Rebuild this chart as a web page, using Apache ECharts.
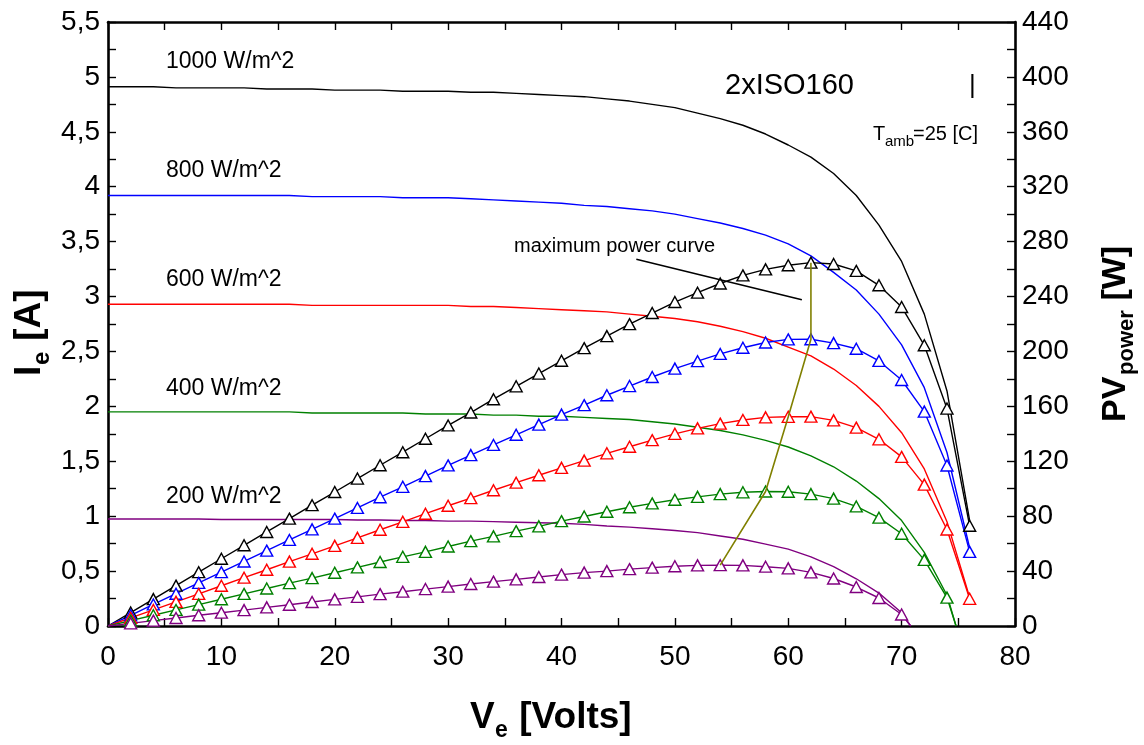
<!DOCTYPE html>
<html>
<head>
<meta charset="utf-8">
<script src="https://cdn.jsdelivr.net/npm/echarts@6/dist/echarts.min.js"></script>
<style>
  html, body { margin: 0; padding: 0; background: #fff; }
  #chart { width: 1144px; height: 745px; }
</style>
</head>
<body>
<div id="chart"></div>
<script>
// Terminal voltage samples [V]
const volts = [0, 2, 4, 6, 8, 10, 12, 14, 16, 18, 20, 22, 24, 26, 28, 30, 32, 34, 36, 38,
               40, 42, 44, 46, 48, 50, 52, 54, 56, 58, 60, 62, 64, 66, 68, 70, 72, 74, 76];

// Irradiance levels, one curve pair each
const irradianceLabels = ['1000 W/m^2', '800 W/m^2', '600 W/m^2', '400 W/m^2', '200 W/m^2'];
const curveColors = ['#000000', '#0000ff', '#ff0000', '#008000', '#800080'];

// Module current I_e [A] at each voltage sample
const current1000 = [4.91, 4.91, 4.91, 4.90, 4.90, 4.90, 4.90, 4.89, 4.89, 4.89, 4.88, 4.88, 4.88, 4.87, 4.87, 4.87, 4.86, 4.86, 4.85, 4.84,
                     4.83, 4.82, 4.80, 4.78, 4.75, 4.72, 4.67, 4.62, 4.56, 4.48, 4.38, 4.27, 4.12, 3.92, 3.65, 3.32, 2.84, 2.14, 0.96];
const current800  = [3.92, 3.92, 3.92, 3.92, 3.92, 3.92, 3.92, 3.92, 3.92, 3.91, 3.91, 3.91, 3.91, 3.90, 3.90, 3.90, 3.89, 3.88, 3.87, 3.86,
                     3.85, 3.83, 3.82, 3.80, 3.78, 3.75, 3.71, 3.67, 3.62, 3.56, 3.48, 3.37, 3.22, 3.06, 2.84, 2.56, 2.17, 1.58, 0.71];
const current600  = [2.93, 2.93, 2.93, 2.93, 2.93, 2.93, 2.93, 2.93, 2.93, 2.92, 2.92, 2.92, 2.92, 2.92, 2.92, 2.92, 2.91, 2.91, 2.90, 2.89,
                     2.88, 2.87, 2.86, 2.84, 2.82, 2.80, 2.77, 2.73, 2.68, 2.62, 2.54, 2.46, 2.34, 2.19, 2.00, 1.76, 1.43, 0.95, 0.26];
const current400  = [1.95, 1.95, 1.95, 1.95, 1.95, 1.95, 1.95, 1.95, 1.95, 1.94, 1.94, 1.94, 1.94, 1.94, 1.93, 1.93, 1.93, 1.92, 1.92, 1.91,
                     1.91, 1.90, 1.89, 1.88, 1.86, 1.84, 1.81, 1.78, 1.74, 1.69, 1.63, 1.55, 1.45, 1.32, 1.16, 0.96, 0.67, 0.28, null];
const current200  = [0.975, 0.975, 0.975, 0.975, 0.975, 0.97, 0.97, 0.97, 0.97, 0.97, 0.97, 0.965, 0.965, 0.96, 0.96, 0.955, 0.955, 0.95, 0.945, 0.94,
                     0.935, 0.925, 0.91, 0.90, 0.885, 0.87, 0.85, 0.82, 0.79, 0.745, 0.70, 0.63, 0.54, 0.43, 0.30, 0.12, null, null, null];

// Module output power PV_power [W] at each voltage sample
const power1000 = [0, 9.8, 19.6, 29.4, 39.2, 49.0, 58.8, 68.5, 78.2, 88.0, 97.6, 107.4, 117.1, 126.6, 136.4, 146.1, 155.5, 165.2, 174.6, 183.9,
                   193.2, 202.4, 211.2, 219.9, 228.0, 236.0, 242.8, 249.5, 255.4, 259.8, 262.8, 264.7, 263.7, 258.7, 248.2, 232.4, 204.5, 158.4, 73.0];
const power800  = [0, 7.8, 15.7, 23.5, 31.4, 39.2, 47.0, 54.9, 62.7, 70.4, 78.2, 86.0, 93.8, 101.4, 109.2, 117.0, 124.5, 131.9, 139.3, 146.7,
                   154.0, 160.9, 168.1, 174.8, 181.4, 187.5, 192.9, 198.2, 202.7, 206.5, 208.8, 208.9, 206.1, 202.0, 193.1, 179.2, 156.2, 116.9, 54.0];
const power600  = [0, 5.9, 11.7, 17.6, 23.4, 29.3, 35.2, 41.0, 46.9, 52.6, 58.4, 64.2, 70.1, 75.9, 81.8, 87.6, 93.1, 98.9, 104.4, 109.8,
                   115.2, 120.5, 125.8, 130.6, 135.4, 140.0, 144.0, 147.4, 150.1, 152.0, 152.4, 152.5, 149.8, 144.5, 136.0, 123.2, 103.0, 70.3, 19.8];
const power400  = [0, 3.9, 7.8, 11.7, 15.6, 19.5, 23.4, 27.3, 31.2, 34.9, 38.8, 42.7, 46.6, 50.4, 54.0, 57.9, 61.8, 65.3, 69.1, 72.6,
                   76.4, 79.8, 83.2, 86.5, 89.3, 92.0, 94.1, 96.1, 97.4, 98.0, 97.8, 96.1, 92.8, 87.1, 78.9, 67.2, 48.2, 20.7, null];
const power200  = [0, 1.95, 3.9, 5.85, 7.8, 9.7, 11.6, 13.6, 15.5, 17.5, 19.4, 21.2, 23.2, 25.0, 26.9, 28.7, 30.6, 32.3, 34.0, 35.7,
                   37.4, 38.9, 40.0, 41.4, 42.5, 43.5, 44.2, 44.3, 44.2, 43.2, 42.0, 39.1, 34.6, 28.4, 20.4, 8.4, null, null, null];

// Open-circuit voltage where a curve reaches zero inside the plotted range
const openCircuitVolts = [null, null, null, 74.8, 70.8];

// Maximum power point of each irradiance curve
const mppVolts = [54, 58, 60, 62, 62];
const mppPower = [44.3, 98.0, 152.4, 208.9, 264.7];

// Leader line for the "maximum power curve" note, in [V, A]
const noteLeader = [[46.6, 3.34], [61.2, 2.97]];

const currents = [current1000, current800, current600, current400, current200];
const powers = [power1000, power800, power600, power400, power200];

const FONT = '"Liberation Sans", Arial, Helvetica, sans-serif';

// [V, y] pairs; the short-circuit point and the open-circuit end carry no marker
function pairs(xs, ys, voc) {
  const out = [];
  xs.forEach((x, i) => {
    if (ys[i] == null) return;
    out.push(x === 0 ? { value: [x, ys[i]], symbol: 'none' } : [x, ys[i]]);
  });
  if (voc != null) out.push({ value: [voc, 0], symbol: 'none' });
  return out;
}

const series = [];
currents.forEach((cur, k) => {
  series.push({
    name: 'I ' + irradianceLabels[k],
    type: 'line',
    xAxisIndex: 0, yAxisIndex: 0,
    data: pairs(volts, cur, openCircuitVolts[k]),
    showSymbol: false,
    lineStyle: { color: curveColors[k], width: 1.4 },
    z: 2
  });
});
powers.forEach((pw, k) => {
  series.push({
    name: 'P ' + irradianceLabels[k],
    type: 'line',
    xAxisIndex: 0, yAxisIndex: 1,
    data: pairs(volts, pw, openCircuitVolts[k]),
    symbol: 'triangle',
    symbolSize: [12, 11],
    itemStyle: { color: '#ffffff', borderColor: curveColors[k], borderWidth: 1.4 },
    lineStyle: { color: curveColors[k], width: 1.4 },
    z: 3
  });
});
series.push({
  name: 'maximum power curve',
  type: 'line',
  xAxisIndex: 0, yAxisIndex: 1,
  data: mppVolts.map((v, i) => [v, mppPower[i]]),
  showSymbol: false,
  lineStyle: { color: '#808000', width: 1.6 },
  z: 4
});
series.push({
  name: 'note leader',
  type: 'line',
  xAxisIndex: 0, yAxisIndex: 0,
  data: noteLeader,
  showSymbol: false,
  lineStyle: { color: '#000', width: 1.6 },
  z: 4
});

const axisLineStyle = { show: true, onZero: false, lineStyle: { color: '#000', width: 2.6 } };
const tickStyle = { show: true, inside: true, length: 8, lineStyle: { color: '#000', width: 1.4 } };
const minorStyle = { show: true, splitNumber: 2, length: 8, lineStyle: { color: '#000', width: 1.4 } };
const labelStyle = { color: '#000', fontSize: 28, fontFamily: FONT };

const curveLabelY = [62, 171, 280, 389, 497];
const graphic = curveLabelY.map((y, k) => ({
  type: 'text', x: 166, y: y,
  style: { text: irradianceLabels[k], font: '23px ' + FONT, fill: '#000', textVerticalAlign: 'middle' }
}));
graphic.push(
  { type: 'text', x: 725, y: 86, style: { text: '2xISO160', font: '29px ' + FONT, fill: '#000', textVerticalAlign: 'middle' } },
  { type: 'text', x: 969, y: 86, style: { text: '|', font: '26px ' + FONT, fill: '#000', textVerticalAlign: 'middle' } },
  { type: 'text', x: 873, y: 134, style: { text: 'T', font: '20px ' + FONT, fill: '#000', textVerticalAlign: 'middle' } },
  { type: 'text', x: 885, y: 142, style: { text: 'amb', font: '15px ' + FONT, fill: '#000', textVerticalAlign: 'middle' } },
  { type: 'text', x: 913, y: 134, style: { text: '=25 [C]', font: '20px ' + FONT, fill: '#000', textVerticalAlign: 'middle' } },
  { type: 'text', x: 514, y: 246, style: { text: 'maximum power curve', font: '20px ' + FONT, fill: '#000', textVerticalAlign: 'middle' } },
  // horizontal axis title
  { type: 'text', x: 470, y: 718, style: { text: 'V', font: 'bold 37px ' + FONT, fill: '#000', textVerticalAlign: 'middle' } },
  { type: 'text', x: 495, y: 731, style: { text: 'e', font: 'bold 23px ' + FONT, fill: '#000', textVerticalAlign: 'middle' } },
  { type: 'text', x: 509, y: 718, style: { text: ' [Volts]', font: 'bold 37px ' + FONT, fill: '#000', textVerticalAlign: 'middle' } },
  // left axis title, reading upwards
  {
    type: 'group', x: 30, y: 376, rotation: Math.PI / 2,
    children: [
      { type: 'text', x: 0, y: 0, style: { text: 'I', font: 'bold 37px ' + FONT, fill: '#000', textVerticalAlign: 'middle' } },
      { type: 'text', x: 11, y: 12, style: { text: 'e', font: 'bold 24px ' + FONT, fill: '#000', textVerticalAlign: 'middle' } },
      { type: 'text', x: 25, y: 0, style: { text: ' [A]', font: 'bold 37px ' + FONT, fill: '#000', textVerticalAlign: 'middle' } }
    ]
  },
  // right axis title, reading upwards
  {
    type: 'group', x: 1116, y: 422, rotation: Math.PI / 2,
    children: [
      { type: 'text', x: 0, y: 0, style: { text: 'PV', font: 'bold 34px ' + FONT, fill: '#000', textVerticalAlign: 'middle' } },
      { type: 'text', x: 47, y: 11, style: { text: 'power', font: 'bold 22px ' + FONT, fill: '#000', textVerticalAlign: 'middle' } },
      { type: 'text', x: 112, y: 0, style: { text: ' [W]', font: 'bold 34px ' + FONT, fill: '#000', textVerticalAlign: 'middle' } }
    ]
  }
);

const chart = echarts.init(document.getElementById('chart'), null, { renderer: 'canvas' });
chart.setOption({
  animation: false,
  backgroundColor: '#fff',
  grid: { left: 108, right: 129, top: 22, bottom: 119, containLabel: false },
  xAxis: [
    { type: 'value', min: 0, max: 80, interval: 10, position: 'bottom',
      axisLine: axisLineStyle, axisTick: tickStyle, minorTick: minorStyle,
      axisLabel: Object.assign({ margin: 17 }, labelStyle), splitLine: { show: false } },
    { type: 'value', min: 0, max: 80, interval: 10, position: 'top',
      axisLine: axisLineStyle, axisTick: tickStyle, minorTick: minorStyle,
      axisLabel: { show: false }, splitLine: { show: false } }
  ],
  yAxis: [
    { type: 'value', min: 0, max: 5.5, interval: 0.5, position: 'left',
      axisLine: axisLineStyle, axisTick: tickStyle, minorTick: minorStyle,
      axisLabel: Object.assign({ margin: 8, formatter: v => String(v).replace('.', ',') }, labelStyle),
      splitLine: { show: false } },
    { type: 'value', min: 0, max: 440, interval: 40, position: 'right',
      axisLine: axisLineStyle, axisTick: tickStyle, minorTick: minorStyle,
      axisLabel: Object.assign({ margin: 7 }, labelStyle), splitLine: { show: false } }
  ],
  series: series,
  graphic: graphic
});
</script>
</body>
</html>
